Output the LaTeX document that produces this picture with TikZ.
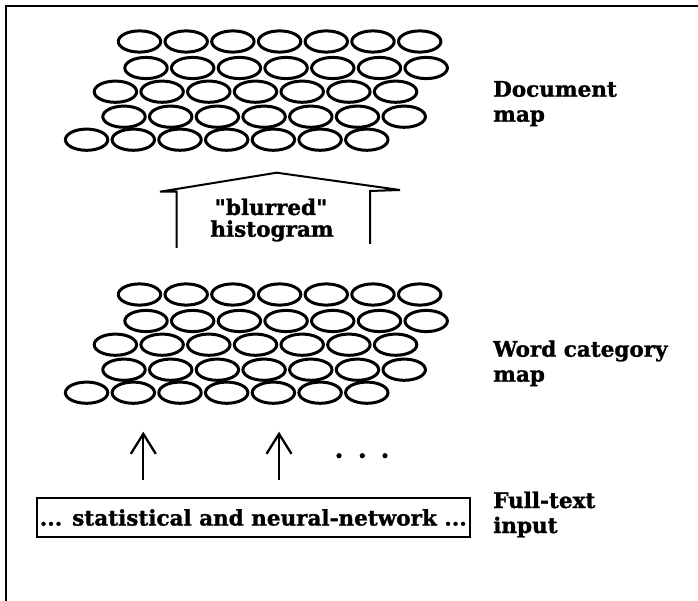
\documentclass[tikz,border=0pt]{standalone}
\usepackage{fontspec}
\setmainfont{DejaVu Serif}[Ligatures=TeXOff, BoldFeatures={FakeBold=1.2}]
\usetikzlibrary{arrows.meta}
\begin{document}
\begin{tikzpicture}[x=1pt,y=-1pt,
  cell/.style={line width=3pt},
  frameline/.style={line width=2pt},
  txt/.style={font=\bfseries\fontsize{21.5}{25}\selectfont, inner sep=0pt},
  lbl/.style={txt, anchor=base west},
  ctr/.style={txt, anchor=base},
  upar/.style={line width=2.3pt, -{Straight Barb[length=20pt,width=25pt]}},
  inbox/.style={draw, line width=2.5pt, minimum width=433pt, minimum height=39pt, txt}]
\useasboundingbox (0,0) rectangle (698,601);
\fill[white] (0,0) rectangle (698,601);

% open frame: top and left edges
\draw[frameline] (698,6) -- (6,6) -- (6,601);

% two self-organizing maps: five staggered rows of seven cells each
\foreach \dy in {0,253} {
  \foreach \yy/\xs in {41.5/139.5, 68/146, 91.7/115.4, 116.7/124, 139.7/86.6} {
    \foreach \i in {0,...,6} {
      \draw[cell] (\xs+\i*46.7, \yy+\dy) ellipse [x radius=21.2, y radius=10.6];
    }
  }
}

% block arrow from the word category map up to the document map
\draw[line width=2pt, line join=miter]
  (176.7,248) -- (176.7,191.7) -- (160,191.7) -- (276.7,172.7)
  -- (400,190) -- (370,191) -- (370,244);
\node[ctr] (blur) at (271,215) {"blurred"};
\node[ctr] (hist) at (272,236.7) {histogram};

% labels
\node[lbl] (doc1) at (493,96.7) {Document};
\node[lbl] (doc2) at (493,121.7) {map};
\node[lbl] (wc1) at (493,356.7) {Word category};
\node[lbl] (wc2) at (493,381.7) {map};
\node[lbl] (ft1) at (493,508) {Full-text};
\node[lbl] (ft2) at (493,533) {input};

% text input window
\node[inbox] (input) at (253.3,517.5) {... statistical and neural-network ...};

% input arrows
\coordinate (a1s) at (143.3,480);
\coordinate (a1e) at (143.3,431.7);
\coordinate (a2s) at (279,480);
\coordinate (a2e) at (279,431.7);
\draw[upar] (a1s) -- (a1e);
\draw[upar] (a2s) -- (a2e);
\fill (339,455.7) circle (2.6) (362.3,455.7) circle (2.6) (385,455.7) circle (2.6);
\end{tikzpicture}
\end{document}
